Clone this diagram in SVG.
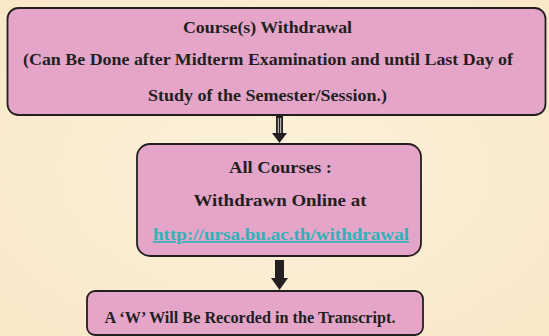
<svg xmlns="http://www.w3.org/2000/svg" width="549" height="336" viewBox="0 0 549 336">
<defs>
<style>
.box{fill:#e5a5c9;stroke:#231f20;stroke-width:1.8}
.t{font-family:'Liberation Serif','DejaVu Serif',serif;font-weight:bold;font-size:17px;fill:#231f20;text-anchor:middle}
.link{fill:#2db3b8;text-decoration:underline}
</style>
<radialGradient id="bg" cx="50%" cy="50%" r="70%">
<stop offset="0" stop-color="#fcf1da"/>
<stop offset="1" stop-color="#f8e8c8"/>
</radialGradient>
</defs>
<rect width="549" height="336" fill="url(#bg)"/>
<g id="connectors">
<g id="arrow1">
<rect x="276" y="116" width="7" height="18" fill="#231f20"/>
<line x1="278.3" y1="118" x2="278.3" y2="139" stroke="#ffffff" stroke-width="0.8"/>
<line x1="280.7" y1="118" x2="280.7" y2="139" stroke="#ffffff" stroke-width="0.8"/>
<polygon points="272,133 287,133 279.5,143" fill="#231f20"/>
</g>
<g id="arrow2">
<rect x="275" y="260" width="9" height="19" fill="#231f20"/>
<polygon points="271,278 288,278 279.5,290" fill="#231f20"/>
</g>
</g>
<g id="node1">
<rect class="box" x="7.5" y="8" width="538" height="107" rx="11"/>
<text class="t" x="267.5" y="33" textLength="169" lengthAdjust="spacingAndGlyphs">Course(s) Withdrawal</text>
<text class="t" x="268" y="65" textLength="490" lengthAdjust="spacingAndGlyphs">(Can Be Done after Midterm Examination and until Last Day of</text>
<text class="t" x="267.5" y="101" textLength="239" lengthAdjust="spacingAndGlyphs">Study of the Semester/Session.)</text>
</g>
<g id="node2">
<rect class="box" x="137" y="144" width="284" height="112" rx="13"/>
<text class="t" x="280.5" y="173" textLength="103" lengthAdjust="spacingAndGlyphs">All Courses :</text>
<text class="t" x="280" y="206" textLength="173" lengthAdjust="spacingAndGlyphs">Withdrawn Online at</text>
<text class="t link" x="281" y="240" textLength="256" lengthAdjust="spacingAndGlyphs"> http://ursa.bu.ac.th/withdrawal</text>
</g>
<g id="node3">
<rect class="box" x="87" y="291" width="336" height="44" rx="8"/>
<text class="t" x="250" y="323" textLength="291" lengthAdjust="spacingAndGlyphs">A ‘W’ Will Be Recorded in the Transcript.</text>
</g>
</svg>
